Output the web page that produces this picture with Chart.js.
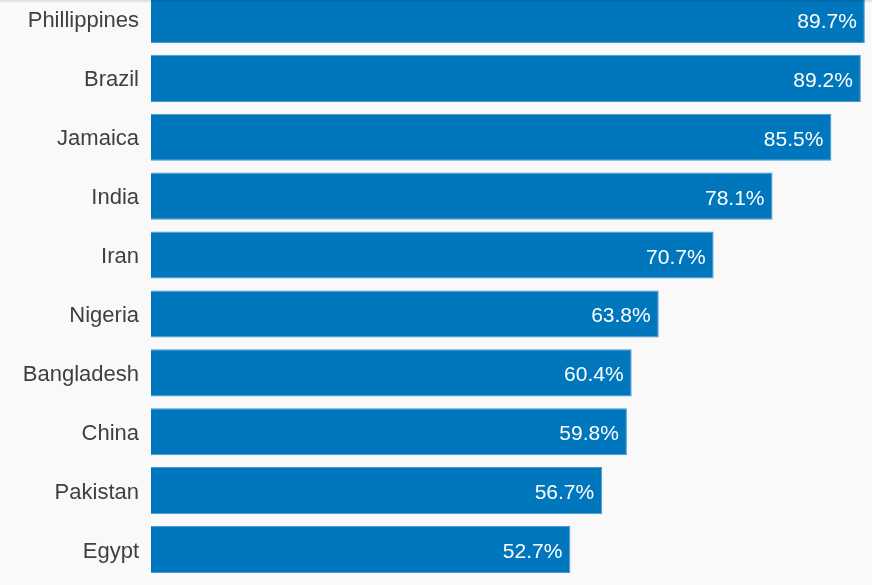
<!DOCTYPE html>
<html>
<head>
<meta charset="utf-8">
<script src="https://cdn.jsdelivr.net/npm/chart.js@4.4.1/dist/chart.umd.min.js"></script>
<style>
  html, body { margin: 0; padding: 0; background: #f9f9f9; overflow: hidden; }
  body { width: 872px; height: 585px; position: relative; }
  #wrap { position: absolute; left: 0; top: -10px; width: 872px; height: 589px; }
  #shade { position: absolute; left: 0; top: 0; width: 872px; height: 3px;
           background: linear-gradient(rgba(0,0,0,0.12), rgba(0,0,0,0)); }
</style>
</head>
<body>
<div id="wrap"><canvas id="myChart"></canvas></div>
<div id="shade"></div>
<script>
var countries = ['Phillippines', 'Brazil', 'Jamaica', 'India', 'Iran', 'Nigeria', 'Bangladesh', 'China', 'Pakistan', 'Egypt'];
var shares = [89.7, 89.2, 85.5, 78.1, 70.7, 63.8, 60.4, 59.8, 56.7, 52.7];
var axisMax = 90.6;

// country names left of the bars, values inside the bar ends
var barText = {
    id: 'barText',
    afterDatasetsDraw: function (chart) {
        var ctx = chart.ctx;
        var meta = chart.getDatasetMeta(0);
        var left = chart.chartArea.left;
        ctx.save();
        ctx.textAlign = 'right';
        ctx.textBaseline = 'alphabetic';
        meta.data.forEach(function (bar, i) {
            ctx.fillStyle = '#3f3f3f';
            ctx.font = '22px "Liberation Sans", Arial, sans-serif';
            ctx.fillText(countries[i], left - 12, bar.y + 8);
            ctx.fillStyle = '#ffffff';
            ctx.font = '21px "Liberation Sans", Arial, sans-serif';
            ctx.fillText(shares[i].toFixed(1) + '%', bar.x - 8, bar.y + 8.5);
        });
        ctx.restore();
    }
};

var ctx = document.getElementById('myChart').getContext('2d');
var chart = new Chart(ctx, {
    type: 'bar',
    data: {
        labels: countries,
        datasets: [{
            data: shares,
            backgroundColor: '#0077bc',
            borderColor: '#4a98cf',
            borderWidth: 1,
            borderSkipped: 'left',
            barPercentage: 0.8,
            categoryPercentage: 1
        }]
    },
    options: {
        indexAxis: 'y',
        responsive: true,
        maintainAspectRatio: false,
        animation: false,
        layout: { padding: 0 },
        plugins: { legend: { display: false }, tooltip: { enabled: false } },
        scales: {
            x: { display: false, min: 0, max: axisMax },
            y: {
                grid: { display: false, drawTicks: false },
                border: { display: false },
                ticks: { display: false },
                afterFit: function (scale) {
                    scale.width = 151;
                    scale.paddingTop = 0;
                    scale.paddingBottom = 0;
                }
            }
        }
    },
    plugins: [barText]
});
</script>
</body>
</html>
